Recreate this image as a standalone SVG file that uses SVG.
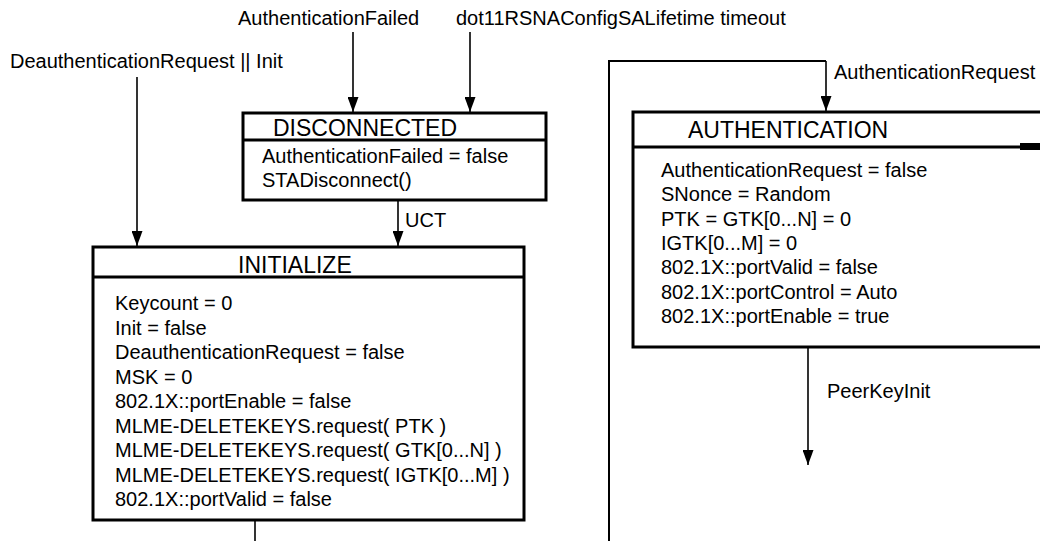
<svg xmlns="http://www.w3.org/2000/svg" width="1040" height="541" viewBox="0 0 1040 541">
<style>
text{font-family:"Liberation Sans",Arial,sans-serif;fill:#000}
.t{font-size:20px}
.h{font-size:23px}
.box{fill:#fff;stroke:#000;stroke-width:3}
.div{stroke:#000;stroke-width:3}
.c{fill:none;stroke:#000;stroke-width:1.6}
.loop{fill:none;stroke:#000;stroke-width:2}
</style>
<defs>
<marker id="av" markerUnits="userSpaceOnUse" markerWidth="11" markerHeight="16" viewBox="0 0 11 16" refX="5.5" refY="15" orient="0">
<path d="M0,0 L11,0 L5.5,15 Z" fill="#000"/>
</marker>
</defs>
<g id="connectors">
<line class="c" x1="353" y1="32" x2="353" y2="112" marker-end="url(#av)"/>
<line class="c" x1="470" y1="32" x2="470" y2="112" marker-end="url(#av)"/>
<line class="c" x1="137" y1="77" x2="137" y2="246" marker-end="url(#av)"/>
<line class="c" x1="398" y1="201" x2="398" y2="246" marker-end="url(#av)"/>
<path class="loop" d="M609,541 V61 H826"/>
<line class="c" x1="826" y1="61" x2="826" y2="111" marker-end="url(#av)"/>
<line class="c" x1="808" y1="348" x2="808" y2="465" marker-end="url(#av)"/>
<line class="c" x1="255" y1="521" x2="255" y2="541"/>
<text class="t" x="238" y="25">AuthenticationFailed</text>
<text class="t" x="456" y="25">dot11RSNAConfigSALifetime timeout</text>
<text class="t" x="10" y="68">DeauthenticationRequest || Init</text>
<text class="t" x="405" y="227">UCT</text>
<text class="t" x="834" y="79">AuthenticationRequest</text>
<text class="t" x="827" y="398">PeerKeyInit</text>
</g>
<g id="disconnected">
<rect class="box" x="243" y="113" width="303" height="87"/>
<line class="div" x1="243" y1="140" x2="546" y2="140"/>
<text class="h" x="273" y="136">DISCONNECTED</text>
<text class="t" x="262" y="163">AuthenticationFailed = false</text>
<text class="t" x="262" y="187">STADisconnect()</text>
</g>
<g id="initialize">
<rect class="box" x="93" y="247" width="431" height="273"/>
<line class="div" x1="93" y1="277" x2="524" y2="277"/>
<text class="h" x="238" y="273">INITIALIZE</text>
<text class="t" x="115" y="310">Keycount = 0</text>
<text class="t" x="115" y="334.5">Init = false</text>
<text class="t" x="115" y="359">DeauthenticationRequest = false</text>
<text class="t" x="115" y="383.5">MSK = 0</text>
<text class="t" x="115" y="408">802.1X::portEnable = false</text>
<text class="t" x="115" y="432.5">MLME-DELETEKEYS.request( PTK )</text>
<text class="t" x="115" y="457">MLME-DELETEKEYS.request( GTK[0...N] )</text>
<text class="t" x="115" y="481.5">MLME-DELETEKEYS.request( IGTK[0...M] )</text>
<text class="t" x="115" y="506">802.1X::portValid = false</text>
</g>
<g id="authentication">
<path class="box" d="M1045,112 H633 V347 H1045"/>
<line class="div" x1="633" y1="147" x2="1045" y2="147"/>
<rect x="1020" y="143" width="22" height="7" fill="#000"/>
<text class="h" x="688" y="138">AUTHENTICATION</text>
<text class="t" x="661" y="177">AuthenticationRequest = false</text>
<text class="t" x="661" y="201">SNonce = Random</text>
<text class="t" x="661" y="225.5">PTK = GTK[0...N] = 0</text>
<text class="t" x="661" y="250">IGTK[0...M] = 0</text>
<text class="t" x="661" y="274">802.1X::portValid = false</text>
<text class="t" x="661" y="298.5">802.1X::portControl = Auto</text>
<text class="t" x="661" y="323">802.1X::portEnable = true</text>
</g>
</svg>
